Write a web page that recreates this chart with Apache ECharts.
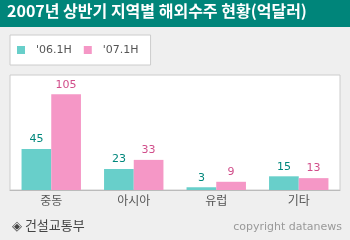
<!DOCTYPE html>
<html><head><meta charset="utf-8">
<script src="https://cdn.jsdelivr.net/npm/echarts@6/dist/echarts.min.js"></script>
<style>html,body{margin:0;padding:0;background:#efefef}#c{width:350px;height:240px}</style>
</head><body><div id="c"></div>
<script>
const categories = ['중동', '아시아', '유럽', '기타'];
const series06 = [45, 23, 3, 15];
const series07 = [105, 33, 9, 13];
const seriesNames = ["'06.1H", "'07.1H"];
const titleText = '2007년 상반기 지역별 해외수주 현황(억달러)';
const sourceText = '◈ 건설교통부';
const copyrightText = 'copyright datanews';

const FONT = '"Noto Sans CJK KR", "DejaVu Sans", sans-serif';
const chart = echarts.init(document.getElementById('c'));
chart.setOption({
  backgroundColor: '#efefef',
  animation: false,
  textStyle: { fontFamily: FONT },
  graphic: [
    { type: 'rect', left: 0, top: 0, shape: { width: 350, height: 27 }, style: { fill: '#00857a' }, z: 0 },
    { type: 'text', left: 7, top: 3, style: { text: titleText, fill: '#fff', font: 'bold 16px ' + FONT } },
    { type: 'text', left: 12, top: 219, style: { text: sourceText, fill: '#444', font: '13px ' + FONT } },
    { type: 'text', right: 8, top: 222, style: { text: copyrightText, fill: '#999', font: '11px "DejaVu Sans", sans-serif' } }
  ],
  legend: {
    left: 10, top: 35,
    padding: [9, 12, 9, 7],
    backgroundColor: '#fff',
    borderColor: '#cccccc', borderWidth: 1,
    itemWidth: 8, itemHeight: 8, itemGap: 12,
    icon: 'rect',
    textStyle: { color: '#555', fontSize: 11, lineHeight: 12, padding: [0, 0, 0, 6], fontFamily: '"DejaVu Sans", sans-serif' },
    data: seriesNames
  },
  grid: {
    left: 10, right: 10, top: 75, bottom: 50,
    show: true, backgroundColor: '#fff', borderColor: '#cccccc', borderWidth: 1
  },
  xAxis: {
    type: 'category', data: categories,
    axisLine: { lineStyle: { color: '#bbbbbb' } },
    axisTick: { inside: true, length: 6, lineStyle: { color: '#999' } },
    axisLabel: { color: '#555', fontSize: 12, margin: 4 }
  },
  yAxis: { type: 'value', min: 0, max: 126, show: false, splitLine: { show: false } },
  series: [
    { name: seriesNames[0], type: 'bar', data: series06, barGap: '0%', barCategoryGap: '28%',
      itemStyle: { color: '#68cfca' },
      label: { show: true, position: 'top', color: '#00877c', fontSize: 11, distance: 4, fontFamily: '"DejaVu Sans", sans-serif' } },
    { name: seriesNames[1], type: 'bar', data: series07,
      itemStyle: { color: '#f597c6' },
      label: { show: true, position: 'top', color: '#d14d8a', fontSize: 11, distance: 4, fontFamily: '"DejaVu Sans", sans-serif' } }
  ]
});
</script></body></html>
